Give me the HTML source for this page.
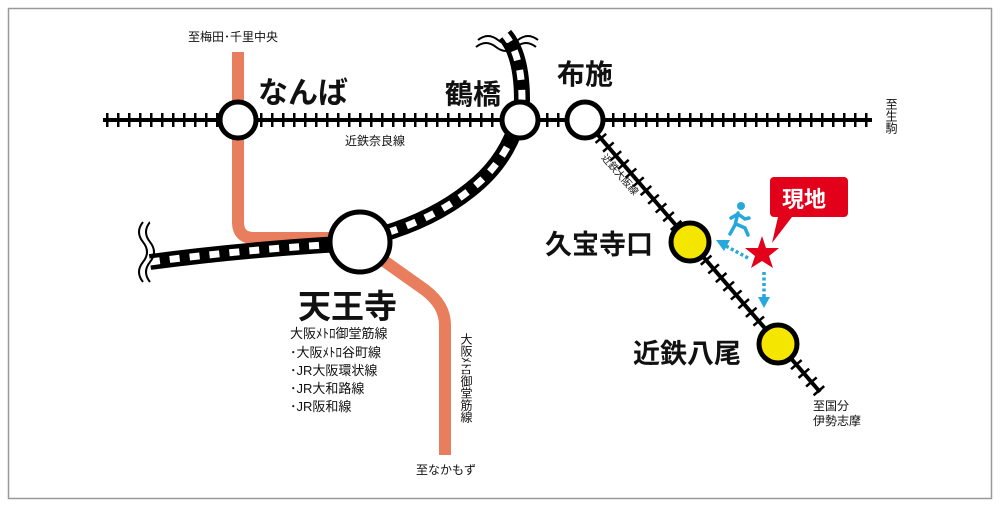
<!DOCTYPE html>
<html><head><meta charset="utf-8"><style>
html,body{margin:0;padding:0;background:#fff;}
svg{display:block;}
text{font-family:"Liberation Sans","Noto Sans CJK JP",sans-serif;fill:#111;}
.b{font-weight:bold;}
</style></head><body>
<svg width="1000" height="509" viewBox="0 0 1000 509" xmlns="http://www.w3.org/2000/svg">
<rect x="8.5" y="8.5" width="983" height="490" fill="#fff" stroke="#999" stroke-width="1.5"/>
<!-- orange lines -->
<path d="M238 52 V222 Q238 238 254 238 H340" fill="none" stroke="#e97e5e" stroke-width="12"/>
<path d="M380 258 L425 290 Q445 305 445 325 V455" fill="none" stroke="#e97e5e" stroke-width="12"/>
<!-- Kintetsu Nara line -->
<line x1="103" y1="120" x2="872" y2="120" stroke="#000" stroke-width="4"/>
<line x1="106" y1="120" x2="872" y2="120" stroke="#000" stroke-width="14" stroke-dasharray="2.5 8.5"/>
<!-- diagonal Osaka line -->
<line x1="585" y1="120" x2="820" y2="392" stroke="#000" stroke-width="4"/>
<line x1="585" y1="120" x2="820" y2="392" stroke="#000" stroke-width="14" stroke-dasharray="2.5 9"/>
<!-- JR loop -->
<path id="jr" d="M150 262 Q240 250 340 244 Q420 230 470 190 Q515 155 522 100 Q522 55 505 35" fill="none" stroke="#000" stroke-width="16"/>
<path d="M150 262 Q240 250 340 244 Q420 230 470 190 Q515 155 522 100 Q522 55 505 35" fill="none" stroke="#fff" stroke-width="7" stroke-dasharray="10 10"/>
<!-- wave breaks -->
<g fill="none" stroke="#000" stroke-width="2">
<path d="M143 222 q-8 10 0 20 q8 10 0 20 q-8 10 0 20"/>
<path d="M150 222 q-8 10 0 20 q8 10 0 20 q-8 10 0 20"/>
<path d="M478 40 q10 -8 20 0 q10 8 20 0 q10 -8 20 0"/>
<path d="M476 47 q10 -8 20 0 q10 8 20 0 q10 -8 20 0"/>
</g>
<rect x="150" y="215" width="5" height="8" fill="#fff"/>
<!-- stations -->
<g stroke="#000" stroke-width="5" fill="#fff">
<circle cx="238" cy="120" r="18"/>
<circle cx="520" cy="120" r="18"/>
<circle cx="585" cy="120" r="18"/>
<circle cx="360" cy="242" r="30"/>
<circle cx="690" cy="242" r="19" fill="#f5e600"/>
<circle cx="778" cy="344" r="19" fill="#f5e600"/>
</g>
<!-- labels -->
<text x="258" y="103" font-size="30" class="b">なんば</text>
<text x="445" y="104" font-size="28" class="b">鶴橋</text>
<text x="557" y="84" font-size="28" class="b">布施</text>
<text x="298" y="318" font-size="33" class="b">天王寺</text>
<text x="545" y="254" font-size="27" class="b">久宝寺口</text>
<text x="633" y="363" font-size="27" class="b">近鉄八尾</text>
<text x="188" y="41" font-size="12">至梅田･千里中央</text>
<text x="345" y="145" font-size="12">近鉄奈良線</text>
<g font-size="13">
<text x="290" y="338">大阪ﾒﾄﾛ御堂筋線</text>
<text x="290" y="357">･大阪ﾒﾄﾛ谷町線</text>
<text x="290" y="375">･JR大阪環状線</text>
<text x="290" y="393">･JR大和路線</text>
<text x="290" y="411">･JR阪和線</text>
</g>
<text font-size="12" writing-mode="tb" x="466" y="333" style="writing-mode:vertical-rl">大阪ﾒﾄﾛ御堂筋線</text>
<text x="416" y="474" font-size="12">至なかもず</text>
<text font-size="12" x="891" y="98" style="writing-mode:vertical-rl">至生駒</text>
<text x="813" y="410" font-size="12">至国分</text>
<text x="813" y="425" font-size="12">伊勢志摩</text>
<text x="0" y="0" font-size="10" transform="translate(601 158) rotate(49)">近鉄大阪線</text>
<!-- current location -->
<path d="M774 177 h70 a4 4 0 0 1 4 4 v32 a4 4 0 0 1 -4 4 h-52 l-20 26 l6 -26 h-4 a4 4 0 0 1 -4 -4 v-32 a4 4 0 0 1 4 -4z" fill="#e3001b"/>
<text x="782" y="207" font-size="22" class="b" style="fill:#fff">現地</text>
<polygon points="762,236 766,248 779,248 769,256 773,268 762,261 751,268 755,256 745,248 758,248" fill="#e3001b"/>
<!-- walker -->
<g fill="#27a8dc" stroke="#27a8dc" stroke-linecap="round">
<circle cx="741" cy="206" r="4" stroke="none"/>
<path d="M738 213 L735 225 L730 234 M736 224 L745 228 L748 235 M738 214 L745 219 L749 218 M738 214 L731 218" fill="none" stroke-width="3.5"/>
</g>
<line x1="748" y1="258" x2="726" y2="246" stroke="#27a8dc" stroke-width="3.5" stroke-dasharray="3 2.5"/>
<polygon points="716,240 730,240 724,251" fill="#27a8dc"/>
<line x1="764" y1="272" x2="764" y2="298" stroke="#27a8dc" stroke-width="3.5" stroke-dasharray="3 2.5"/>
<polygon points="758,297 770,297 764,308" fill="#27a8dc"/>
</svg>
</body></html>
